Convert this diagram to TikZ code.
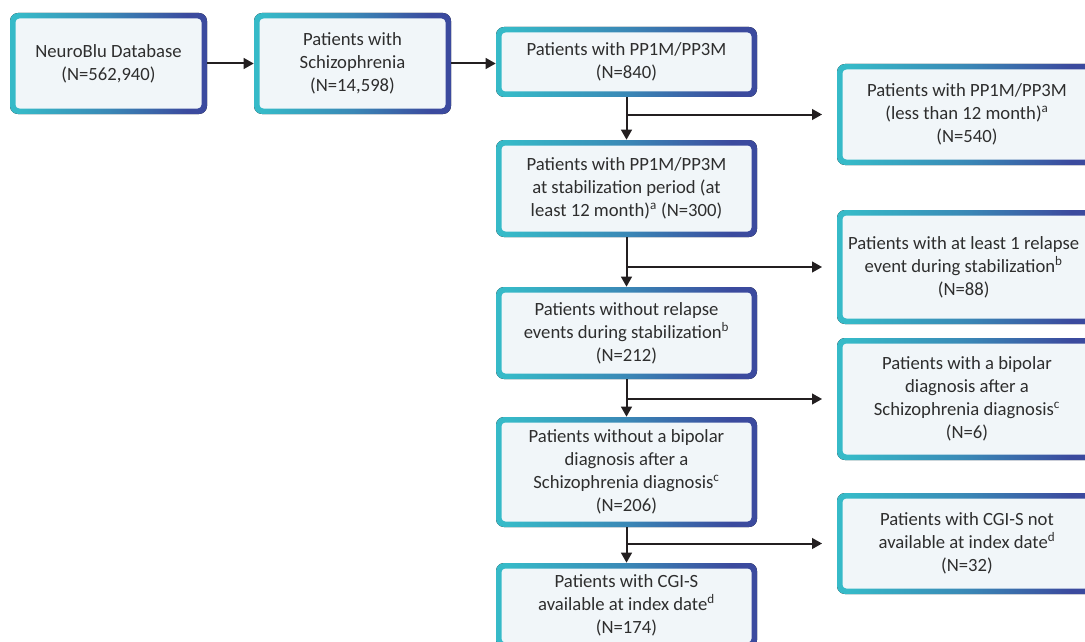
\documentclass[tikz,border=0pt]{standalone}
\usepackage{fontspec}
\setmainfont{Carlito}
\usetikzlibrary{arrows.meta,fit}
\definecolor{gA}{HTML}{36BAC8}
\definecolor{gB}{HTML}{3A88B6}
\definecolor{gC}{HTML}{3B4A9E}
\definecolor{boxfill}{HTML}{F1F6F9}
\definecolor{txtc}{HTML}{2E2E2E}
\definecolor{arrowc}{HTML}{231F20}
\pgfdeclarehorizontalshading{gbord}{100bp}{color(0bp)=(gA); color(27bp)=(gA); color(50bp)=(gB); color(70bp)=(gC); color(100bp)=(gC)}
\tikzset{
  txt/.style={inner sep=0pt, align=center, text=txtc, font=\fontsize{14pt}{17.3pt}\selectfont},
  arr/.style={draw=arrowc, line width=1.5pt, -{Triangle[length=7.5pt,width=8pt]}},
  sidearr/.style={arr, shorten >=11pt},
}
\newcommand\flowbox[7][0]{%
  \fill[shading=gbord, rounded corners=6pt] (#3,#4) rectangle (#5,#6);
  \fill[boxfill, rounded corners=3pt] ({#3+5.5},{#4+5.5}) rectangle ({#5-5.5},{#6-5.5});
  \node[fit={(#3,#4) (#5,#6)}, inner sep=0pt] (#2) {};
  \node[txt, xshift=#1] (#2-t) at (#2.center) {#7};
}
\begin{document}
\begin{tikzpicture}[x=0.75pt,y=-0.75pt]
\useasboundingbox (0,0) rectangle (1085,642);
\clip (0,0) rectangle (1085,642);
\fill[white] (0,0) rectangle (1085,642);
\flowbox{b1}{10}{13}{207}{114}{NeuroBlu Database\\(N=562,940)}
\flowbox{b2}{254}{13}{451}{114}{Patients with\\Schizophrenia\\(N=14,598)}
\flowbox{b3}{496}{27}{757}{97}{Patients with PP1M/PP3M\\(N=840)}
\flowbox{b4}{496}{140}{757}{237}{Patients with PP1M/PP3M\\at stabilization period (at\\least 12 month)\textsuperscript{a} (N=300)}
\flowbox{b5}{496}{287}{757}{379}{Patients without relapse\\events during stabilization\textsuperscript{b}\\(N=212)}
\flowbox{b6}{496}{417}{757}{527}{Patients without a bipolar\\diagnosis after a\\Schizophrenia diagnosis\textsuperscript{c}\\(N=206)}
\flowbox{b7}{496}{563}{757}{648}{Patients with CGI-S\\available at index date\textsuperscript{d}\\(N=174)}
\flowbox{r1}{837}{64}{1097}{165}{Patients with PP1M/PP3M\\(less than 12 month)\textsuperscript{a}\\(N=540)}
\flowbox[-2.5pt]{r2}{837}{210}{1097}{324}{Patients with at least 1 relapse\\event during stabilization\textsuperscript{b}\\(N=88)}
\flowbox{r3}{837}{338}{1097}{460}{Patients with a bipolar\\diagnosis after a\\Schizophrenia diagnosis\textsuperscript{c}\\(N=6)}
\flowbox{r4}{837}{493}{1097}{594}{Patients with CGI-S not\\available at index date\textsuperscript{d}\\(N=32)}
\draw[arr] (b1.east) -- (b2.west);
\draw[arr] (b2.east) -- (b2.east -| b3.west);
\draw[arr] (b3.south) -- (b4.north);
\draw[arr] (b4.south) -- (b5.north);
\draw[arr] (b5.south) -- (b6.north);
\draw[arr] (b6.south) -- (b7.north);
\draw[sidearr] (b3.south |- r1.west) -- (r1.west);
\draw[sidearr] (b4.south |- r2.west) -- (r2.west);
\draw[sidearr] (b5.south |- r3.west) -- (r3.west);
\draw[sidearr] (b6.south |- r4.west) -- (r4.west);
\end{tikzpicture}
\end{document}
